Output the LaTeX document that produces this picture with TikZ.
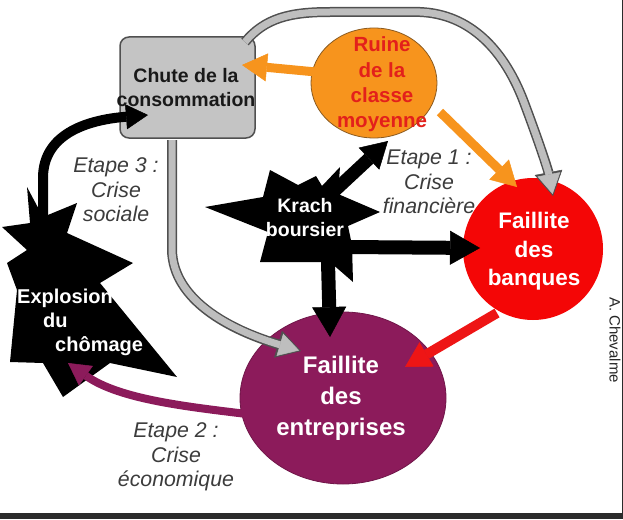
\documentclass[tikz,border=0pt]{standalone}
\usepackage{fontspec}
\setmainfont{Liberation Sans}
\usetikzlibrary{arrows.meta}
\definecolor{boxgray}{HTML}{C4C4C4}
\definecolor{arrgray}{HTML}{BEBEBE}
\definecolor{edgegray}{HTML}{505050}
\definecolor{orng}{HTML}{F7941D}
\definecolor{orngedge}{HTML}{8A5A20}
\definecolor{bankred}{HTML}{F40606}
\definecolor{arrred}{HTML}{EE1515}
\definecolor{plum}{HTML}{8C1B5B}
\definecolor{ruinetext}{HTML}{E3201B}
\definecolor{lblgray}{HTML}{3C3C3C}
\definecolor{darkstrip}{HTML}{2B2B2B}
\tikzset{
  bigtxt/.style={align=center, inner sep=0pt, font=\fontsize{19.5}{24}\selectfont\bfseries},
  lbl/.style={align=center, inner sep=0pt, text=lblgray, font=\fontsize{21.3}{24.5}\selectfont\itshape},
  startxt/.style={anchor=base west, inner sep=0pt, text=white, font=\fontsize{20}{24}\selectfont\bfseries},
  grayout/.style={draw=edgegray, line width=10pt, -{Triangle[length=24pt,width=28pt,line width=0.5pt]}},
  grayin/.style={draw=arrgray, line width=7pt, shorten >=2pt, -{Triangle[length=20pt,width=23pt,line width=0.5pt]}},
  orngarrow/.style={draw=orng, line width=9pt, -{Triangle[length=25pt,width=28pt,line width=0.5pt]}},
  blackarrow/.style={draw=black, line width=14pt, -{Triangle[length=30pt,width=34pt,line width=0.5pt]}}
}
\begin{document}
\begin{tikzpicture}[x=1pt,y=-1pt]
\useasboundingbox (0,0) rectangle (623,519);
\fill[white] (0,0) rectangle (623,519);
\fill[darkstrip] (0,513) rectangle (623,519);
\fill[darkstrip] (621.5,0) rectangle (623,519);

% shapes
\draw[edgegray, line width=1.5pt, fill=boxgray, rounded corners=9pt] (120,37) rectangle (255,138);
\draw[orngedge, line width=0.8pt, fill=orng] (374,83) ellipse [x radius=63, y radius=55];
\fill[bankred] (533,249) ellipse [x radius=70, y radius=71];
\draw[plum!80!black, line width=0.8pt, fill=plum] (343,398) ellipse [x radius=103, y radius=86];
\fill[black] (205,207) -- (263,197) -- (270,170) -- (298,185) -- (316,176) -- (322,186) -- (340,167) -- (338,194) -- (380,212) -- (348,226) -- (352,245) -- (353,282) -- (330,262) -- (310,262) -- (260,262) -- (268,232) -- cycle;
\fill[black] (27,187) -- (43,217) -- (77,203) -- (67,233) -- (133,263) -- (100,283) -- (177,377) -- (110,363) -- (63,397) -- (43,363) -- (10,362) -- (17,290) -- (7,263) -- (27,250) -- (2,227) -- (30,223) -- cycle;

% connector end points
\coordinate (chuteTop) at (245,42);
\coordinate (banqTop) at (553,196);
\coordinate (chuteBot) at (172,140);
\coordinate (entrLeft) at (301,351);
\coordinate (explTop) at (43,255);
\coordinate (chuteIn) at (148,115);
\coordinate (ruineLeft) at (316,72);
\coordinate (chuteRight) at (242,65);
\coordinate (ruineLow) at (440,112);
\coordinate (banqUp) at (517,187);
\coordinate (krachUp) at (330,195);
\coordinate (ruineBot) at (388,141);
\coordinate (krachRight) at (345,247);
\coordinate (banqLeft) at (480,248);
\coordinate (krachBot) at (328,262);
\coordinate (entrTop) at (330,337);
\coordinate (banqLow) at (497,313);
\coordinate (entrRight) at (405,367);
\coordinate (entrWest) at (255,415);
\coordinate (explIn) at (68,363);

% gray arrows
\draw[grayout] (chuteTop) .. controls (265,18) and (290,12) .. (330,12) -- (420,12) .. controls (470,14) and (505,50) .. (525,105) .. controls (540,145) and (548,170) .. (banqTop);
\draw[grayin] (chuteTop) .. controls (265,18) and (290,12) .. (330,12) -- (420,12) .. controls (470,14) and (505,50) .. (525,105) .. controls (540,145) and (548,170) .. (banqTop);
\draw[grayout] (chuteBot) -- (172,250) .. controls (173,300) and (230,330) .. (entrLeft);
\draw[grayin] (chuteBot) -- (172,250) .. controls (173,300) and (230,330) .. (entrLeft);

% orange arrows
\draw[orngarrow] (ruineLeft) -- (chuteRight);
\draw[orngarrow] (ruineLow) -- (banqUp);

% black arrows
\draw[black, line width=10pt, -{Triangle[length=22pt,width=25pt,line width=0.5pt]}] (explTop) -- (43,178) .. controls (43,135) and (85,120) .. (chuteIn);
\draw[blackarrow, line width=13pt, -{Triangle[length=26pt,width=30pt,line width=0.5pt]}] (krachUp) -- (ruineBot);
\draw[blackarrow] (krachRight) -- (banqLeft);
\draw[blackarrow] (krachBot) -- (entrTop);

% red and purple arrows
\draw[arrred, line width=10pt, -{Triangle[length=25pt,width=28pt,line width=0.5pt]}] (banqLow) -- (entrRight);
\draw[plum, line width=8pt, -{Triangle[length=22pt,width=24pt,line width=0.5pt]}] (entrWest) .. controls (190,407) and (120,400) .. (explIn);

% texts
\node[bigtxt, text=black!90] (chute) at (186,87.5) {Chute de la\\consommation};
\node[bigtxt, text=ruinetext, font=\fontsize{20.5}{25.3}\selectfont\bfseries] (ruine) at (382,84.5) {Ruine\\de la\\classe\\moyenne};
\node[bigtxt, text=white, font=\fontsize{22.5}{28.5}\selectfont\bfseries] (banques) at (534,251.5) {Faillite\\des\\banques};
\node[bigtxt, text=white, font=\fontsize{24}{31}\selectfont\bfseries] (entreprises) at (341,398.5) {Faillite\\des\\entreprises};
\node[bigtxt, text=white] (krach) at (305,218) {Krach\\boursier};
\node[startxt] (expl1) at (17,303) {Explosion};
\node[startxt] (expl2) at (43,327) {du};
\node[startxt] (expl3) at (55,351) {chômage};

\node[lbl] (etape3) at (116,190) {Etape 3 :\\Crise\\sociale};
\node[lbl] (etape1) at (429,182) {Etape 1 :\\Crise\\financière};
\node[lbl] (etape2) at (176,457) {Etape 2 :\\Crise\\économique};

\node[rotate=-90, inner sep=0pt, font=\fontsize{15}{15}\selectfont, text=black!85] (author) at (615,340) {A. Chevalme};
\end{tikzpicture}
\end{document}
